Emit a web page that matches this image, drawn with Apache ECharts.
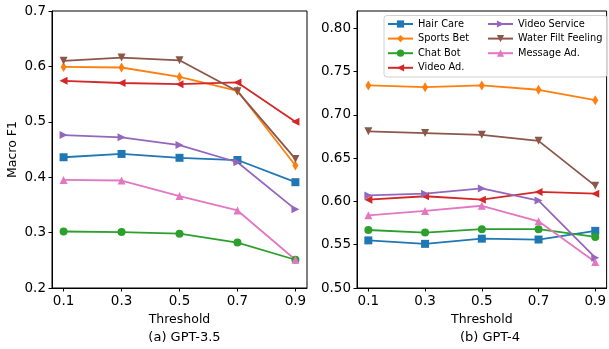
<!DOCTYPE html>
<html>
<head>
<meta charset="utf-8">
<script src="https://cdn.jsdelivr.net/npm/echarts@6/dist/echarts.min.js"></script>
<style>
  html, body { margin: 0; padding: 0; background: #fff; }
  #chart { width: 609px; height: 349px; }
</style>
</head>
<body>
<div id="chart"></div>
<script>
var thresholds = [0.1, 0.3, 0.5, 0.7, 0.9];
var seriesNames = ['Hair Care', 'Sports Bet', 'Chat Bot', 'Video Ad.', 'Video Service', 'Water Filt Feeling', 'Message Ad.'];

// GPT-3.5
var gpt35HairCare = [0.436, 0.442, 0.435, 0.431, 0.391];
var gpt35SportsBet = [0.599, 0.598, 0.581, 0.556, 0.421];
var gpt35ChatBot = [0.302, 0.301, 0.298, 0.282, 0.251];
var gpt35VideoAd = [0.574, 0.570, 0.568, 0.571, 0.500];
var gpt35VideoService = [0.476, 0.472, 0.458, 0.427, 0.342];
var gpt35WaterFilt = [0.610, 0.616, 0.611, 0.555, 0.433];
var gpt35MessageAd = [0.395, 0.394, 0.366, 0.340, 0.251];

// GPT-4
var gpt4HairCare = [0.555, 0.551, 0.557, 0.556, 0.566];
var gpt4SportsBet = [0.734, 0.732, 0.734, 0.729, 0.717];
var gpt4ChatBot = [0.567, 0.564, 0.568, 0.568, 0.559];
var gpt4VideoAd = [0.602, 0.606, 0.602, 0.611, 0.609];
var gpt4VideoService = [0.607, 0.609, 0.615, 0.601, 0.535];
var gpt4WaterFilt = [0.681, 0.679, 0.677, 0.670, 0.618];
var gpt4MessageAd = [0.584, 0.589, 0.595, 0.577, 0.530];

var yTicksLeft = [0.2, 0.3, 0.4, 0.5, 0.6, 0.7];
var yTicksRight = [0.50, 0.55, 0.60, 0.65, 0.70, 0.75, 0.80];

var colors = ['#1f77b4', '#ff7f0e', '#2ca02c', '#d62728', '#9467bd', '#8c564b', '#e377c2'];
var symbols = ['rect', 'diamond', 'circle', 'triangle', 'triangle', 'triangle', 'triangle'];
var rotations = [0, 0, 0, 90, -90, 180, 0];
var sizes = [8, [6, 10], 8, 8, 8, 8, 8];

var gpt35 = [gpt35HairCare, gpt35SportsBet, gpt35ChatBot, gpt35VideoAd, gpt35VideoService, gpt35WaterFilt, gpt35MessageAd];
var gpt4 = [gpt4HairCare, gpt4SportsBet, gpt4ChatBot, gpt4VideoAd, gpt4VideoService, gpt4WaterFilt, gpt4MessageAd];

var font = 'DejaVu Sans, sans-serif';

function xAxisFor(idx) {
    return {
        type: 'value',
        gridIndex: idx,
        min: 0.06,
        max: 0.94,
        name: 'Threshold',
        nameLocation: 'middle',
        nameGap: 24,
        nameTextStyle: { fontSize: 12.5, color: '#000', fontFamily: font },
        axisLine: { show: true, lineStyle: { color: '#000', width: 1 } },
        axisTick: { show: true, length: 3.5, customValues: thresholds, lineStyle: { color: '#000' } },
        axisLabel: {
            customValues: thresholds,
            margin: 6,
            fontSize: 13.5,
            color: '#000',
            fontFamily: font,
            formatter: function (v) { return v.toFixed(1); }
        },
        splitLine: { show: false }
    };
}

function yAxisFor(idx, min, max, ticks, digits, name) {
    return {
        type: 'value',
        gridIndex: idx,
        min: min,
        max: max,
        name: name,
        nameLocation: 'middle',
        nameGap: 33,
        nameRotate: 90,
        nameTextStyle: { fontSize: 12.5, color: '#000', fontFamily: font },
        axisLine: { show: true, lineStyle: { color: '#000', width: 1 } },
        axisTick: { show: true, length: 3.5, customValues: ticks, lineStyle: { color: '#000' } },
        axisLabel: {
            customValues: ticks,
            margin: 6,
            fontSize: 13.5,
            color: '#000',
            fontFamily: font,
            formatter: function (v) { return v.toFixed(digits); }
        },
        splitLine: { show: false }
    };
}

var series = [];
function addSeries(values, idx) {
    for (var i = 0; i < seriesNames.length; i++) {
        series.push({
            name: seriesNames[i],
            type: 'line',
            xAxisIndex: idx,
            yAxisIndex: idx,
            data: thresholds.map(function (t, j) { return [t, values[i][j]]; }),
            symbol: symbols[i],
            symbolRotate: rotations[i],
            symbolSize: sizes[i],
            showAllSymbol: true,
            lineStyle: { color: colors[i], width: 1.8 },
            itemStyle: { color: colors[i], borderWidth: 0 },
            emphasis: { disabled: true },
            animation: false
        });
    }
}
addSeries(gpt35, 0);
addSeries(gpt4, 1);

var legendBase = {
    orient: 'vertical',
    itemWidth: 25,
    itemHeight: 9,
    itemGap: 2.6,
    padding: 0,
    top: 18,
    textStyle: { fontSize: 9.8, color: '#000', fontFamily: font, lineHeight: 12 },
    selectedMode: false
};

var chart = echarts.init(document.getElementById('chart'));
chart.setOption({
    backgroundColor: '#fff',
    animation: false,
    grid: [
        { left: 52, right: 302, top: 11, bottom: 61, show: true, borderColor: '#000', borderWidth: 1 },
        { left: 357, right: -4, top: 11, bottom: 61, show: true, borderColor: '#000', borderWidth: 1 }
    ],
    xAxis: [xAxisFor(0), xAxisFor(1)],
    yAxis: [
        yAxisFor(0, 0.2, 0.7, yTicksLeft, 1, 'Macro F1'),
        yAxisFor(1, 0.5, 0.82, yTicksRight, 2, '')
    ],
    legend: [
        Object.assign({}, legendBase, { left: 387, data: seriesNames.slice(0, 4) }),
        Object.assign({}, legendBase, { left: 487, data: seriesNames.slice(4) })
    ],
    title: [
        { text: '(a) GPT-3.5', left: 179.5, top: 326, textAlign: 'center',
          textStyle: { fontSize: 13, fontWeight: 'normal', color: '#000', fontFamily: font } },
        { text: '(b) GPT-4', left: 485, top: 326, textAlign: 'center',
          textStyle: { fontSize: 13, fontWeight: 'normal', color: '#000', fontFamily: font } }
    ],
    graphic: [{
        type: 'rect',
        z: 3,
        shape: { x: 384, y: 15.5, width: 223, height: 61.5, r: 3 },
        style: { fill: 'rgba(255,255,255,0.8)', stroke: '#d0d0d0', lineWidth: 1 }
    }],
    series: series
});
</script>
</body>
</html>
